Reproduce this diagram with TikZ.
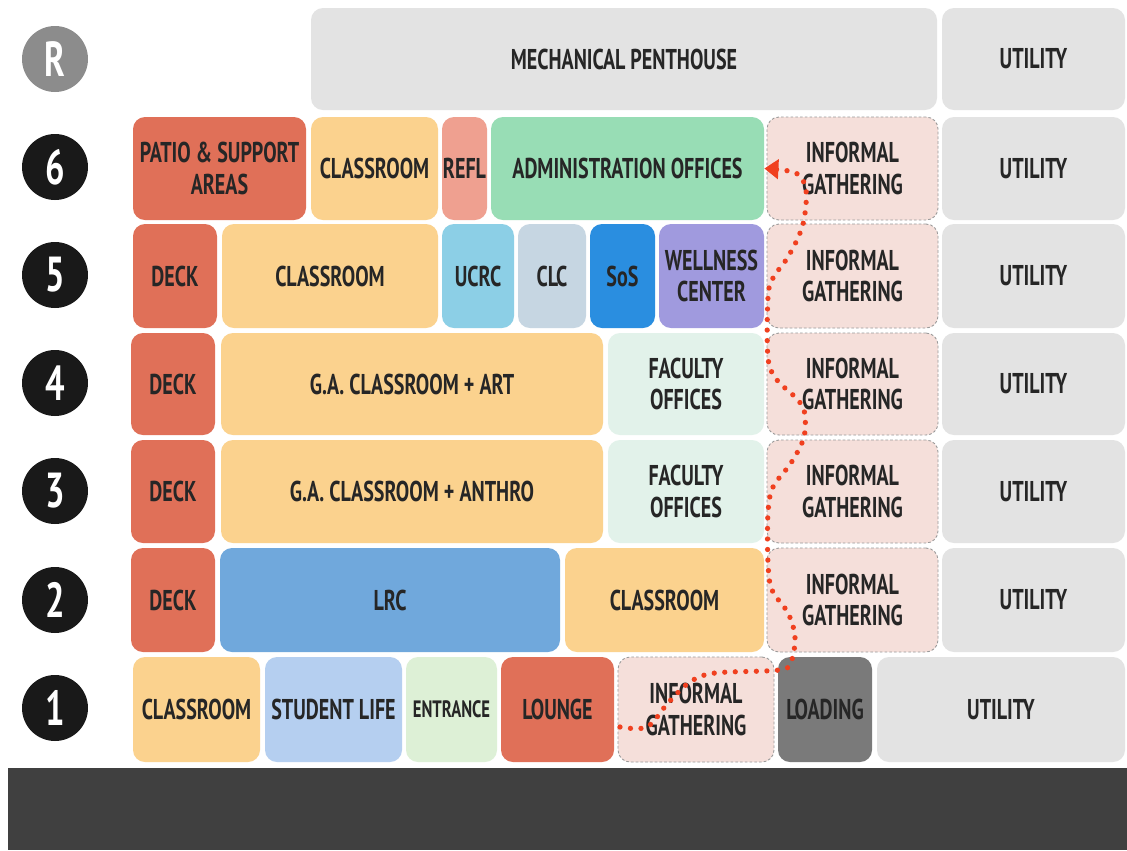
\documentclass[tikz,border=0pt]{standalone}
\usepackage{fontspec}
\setmainfont{PT Sans}
\newfontfamily\roomfont[FakeStretch=0.7]{PT Sans}
\usetikzlibrary{arrows.meta}
\definecolor{deck}{HTML}{E07058}
\definecolor{cls}{HTML}{FBD28E}
\definecolor{refl}{HTML}{EFA090}
\definecolor{admin}{HTML}{98DDB5}
\definecolor{ucrc}{HTML}{8CCFE6}
\definecolor{clc}{HTML}{C6D6E2}
\definecolor{sos}{HTML}{2A8EE0}
\definecolor{well}{HTML}{A09ADE}
\definecolor{inform}{HTML}{F5DFDA}
\definecolor{util}{HTML}{E3E3E3}
\definecolor{fac}{HTML}{E2F2EA}
\definecolor{lrc}{HTML}{70A8DC}
\definecolor{stud}{HTML}{B5CFF0}
\definecolor{entr}{HTML}{DDF0D6}
\definecolor{load}{HTML}{7A7A7A}
\definecolor{txt}{HTML}{262626}
\definecolor{route}{HTML}{F0401F}
\definecolor{bar}{HTML}{404040}
\tikzset{
  room/.style={rectangle,rounded corners=0.24cm,inner sep=0pt,align=center,text=txt,
    font=\roomfont\bfseries\fontsize{16.3}{17.8}\selectfont},
  informal/.style={fill=inform,draw=black!40,dash pattern=on 1.5pt off 1.2pt,line width=0.5pt},
  lvl/.style={circle,fill=black!90,text=white,minimum size=1.32cm,inner sep=0pt,
    font=\roomfont\bfseries\fontsize{28}{28}\selectfont},
  path/.style={route,line width=3pt,line cap=round,dash pattern=on 0pt off 6pt,
    -{Triangle[length=8pt,width=11pt]}}
}
\newcommand{\room}[7][]{\node[room,#1,minimum width={(#5-#3)*0.02cm},
  minimum height={(#6-#4)*0.02cm}] (#2) at ({(#3+#5)/2},{(#4+#6)/2}) {#7};}
\begin{document}
\begin{tikzpicture}[x=0.02cm,y=-0.02cm]
\useasboundingbox (0,0) rectangle (1127,850);
\fill[white] (0,0) rectangle (1127,850);
\fill[bar] (8,768) rectangle (1127,850);
% levels
\node[lvl,fill=black!45] (lR) at (55,59) {R};
\node[lvl] (l6) at (55,167) {6};
\node[lvl] (l5) at (55,275) {5};
\node[lvl] (l4) at (55,383) {4};
\node[lvl] (l3) at (55,491) {3};
\node[lvl] (l2) at (55,600) {2};
\node[lvl] (l1) at (55,708) {1};
% roof
\room[fill=util]{mech}{311}{8}{937}{110}{MECHANICAL PENTHOUSE}
\room[fill=util]{utR}{942}{8}{1125}{110}{UTILITY}
% 6
\room[fill=deck]{patio}{133}{117}{306}{220}{PATIO \& SUPPORT\\AREAS}
\room[fill=cls]{cls6}{311}{117}{438}{220}{CLASSROOM}
\room[fill=refl]{refl}{442}{117}{487}{220}{REFL}
\room[fill=admin]{adm}{491}{117}{764}{220}{ADMINISTRATION OFFICES}
\room[informal]{inf6}{767}{117}{938}{220}{INFORMAL\\GATHERING}
\room[fill=util]{ut6}{942}{117}{1125}{220}{UTILITY}
% 5
\room[fill=deck]{deck5}{133}{224}{217}{328}{DECK}
\room[fill=cls]{cls5}{222}{224}{438}{328}{CLASSROOM}
\room[fill=ucrc]{ucrc}{442}{224}{514}{328}{UCRC}
\room[fill=clc]{clc}{518}{224}{586}{328}{CLC}
\room[fill=sos]{sos}{590}{224}{655}{328}{SoS}
\room[fill=well]{well}{659}{224}{764}{328}{WELLNESS\\CENTER}
\room[informal]{inf5}{767}{224}{938}{328}{INFORMAL\\GATHERING}
\room[fill=util]{ut5}{942}{224}{1125}{328}{UTILITY}
% 4
\room[fill=deck]{deck4}{131}{333}{215}{435}{DECK}
\room[fill=cls]{ga4}{221}{333}{603}{435}{G.A. CLASSROOM + ART}
\room[fill=fac]{fac4}{608}{333}{764}{435}{FACULTY\\OFFICES}
\room[informal]{inf4}{767}{333}{938}{435}{INFORMAL\\GATHERING}
\room[fill=util]{ut4}{942}{333}{1125}{435}{UTILITY}
% 3
\room[fill=deck]{deck3}{131}{440}{215}{543}{DECK}
\room[fill=cls]{ga3}{221}{440}{603}{543}{G.A. CLASSROOM + ANTHRO}
\room[fill=fac]{fac3}{608}{440}{764}{543}{FACULTY\\OFFICES}
\room[informal]{inf3}{767}{440}{938}{543}{INFORMAL\\GATHERING}
\room[fill=util]{ut3}{942}{440}{1125}{543}{UTILITY}
% 2
\room[fill=deck]{deck2}{131}{548}{215}{652}{DECK}
\room[fill=lrc]{lrc}{220}{548}{560}{652}{LRC}
\room[fill=cls]{cls2}{565}{548}{764}{652}{CLASSROOM}
\room[informal]{inf2}{767}{548}{938}{652}{INFORMAL\\GATHERING}
\room[fill=util]{ut2}{942}{548}{1125}{652}{UTILITY}
% 1
\room[fill=cls]{cls1}{133}{657}{260}{762}{CLASSROOM}
\room[fill=stud]{stud}{265}{657}{402}{762}{STUDENT LIFE}
\room[fill=entr,font=\roomfont\bfseries\fontsize{13.5}{14}\selectfont]{ent}{406}{657}{497}{762}{ENTRANCE}
\room[fill=deck]{lng}{501}{657}{614}{762}{LOUNGE}
\room[informal]{inf1}{618}{657}{774}{762}{INFORMAL\\GATHERING}
\room[fill=load]{load}{778}{657}{872}{762}{LOADING}
\room[fill=util]{ut1}{877}{657}{1125}{762}{UTILITY}
% route
\coordinate (p0) at (620,727);
\draw[path] plot[smooth,tension=0.55] coordinates {(p0) (647,727) (668,703) (690,682)
  (715,673) (779,670) (791,662) (795,637) (788,613) (772,590) (768,563) (768,513)
  (773,487) (791,463) (804,437) (804,410) (793,395) (777,380) (768,358) (768,297)
  (773,278) (786,260) (797,240) (804,220) (806,190) (796,173) (adm.east)};
\end{tikzpicture}
\end{document}
